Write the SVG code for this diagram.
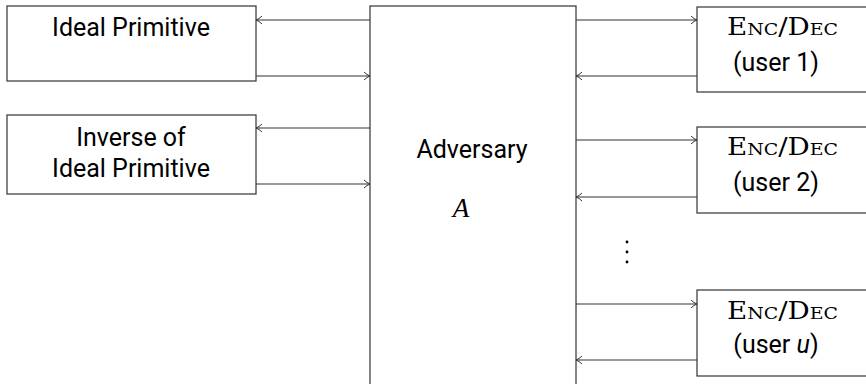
<svg xmlns="http://www.w3.org/2000/svg" width="866" height="384" viewBox="0 0 866 384">
<style>
.box{fill:#fff;stroke:#333;stroke-width:1.2}
.t{font-family:Roboto,"Liberation Sans",sans-serif;font-size:25px;fill:#000;text-anchor:middle}
.sc{font-family:"DejaVu Serif","Liberation Serif",serif;font-size:23.5px;fill:#000}
.s{font-size:16px}
.c{stroke:#333;stroke-width:1.2;fill:none;marker-end:url(#ah)}
</style>
<defs>
<marker id="ah" viewBox="0 0 10 10" refX="9" refY="5" markerWidth="10" markerHeight="10" markerUnits="userSpaceOnUse" orient="auto">
<path d="M3,1 Q6,4 9,5 Q6,6 3,9" fill="none" stroke="#333" stroke-width="1"/>
</marker>
</defs>
<rect width="866" height="384" fill="#fff"/>
<g id="ideal">
<rect class="box" x="7" y="6" width="249" height="75"/>
<text class="t" x="131" y="36">Ideal Primitive</text>
</g>
<g id="inverse">
<rect class="box" x="7" y="115" width="249" height="79"/>
<text class="t" x="131" y="146">Inverse of</text>
<text class="t" x="131" y="177">Ideal Primitive</text>
</g>
<g id="adversary">
<rect class="box" x="370" y="6" width="206" height="390"/>
<text class="t" x="472" y="158">Adversary</text>
<text x="461" y="217" font-family="'Liberation Serif',serif" font-style="italic" font-size="27" text-anchor="middle">A</text>
</g>
<g id="user1">
<rect class="box" x="697" y="7" width="180" height="85"/>
<text class="sc" x="727" y="35" textLength="111" lengthAdjust="spacingAndGlyphs">E<tspan class="s">NC</tspan>/D<tspan class="s">EC</tspan></text>
<text class="t" x="776" y="71">(user 1)</text>
</g>
<g id="user2">
<rect class="box" x="697" y="127" width="180" height="86"/>
<text class="sc" x="727" y="155" textLength="111" lengthAdjust="spacingAndGlyphs">E<tspan class="s">NC</tspan>/D<tspan class="s">EC</tspan></text>
<text class="t" x="776" y="191">(user 2)</text>
</g>
<g id="useru">
<rect class="box" x="697" y="290" width="180" height="86"/>
<text class="sc" x="727" y="319" textLength="111" lengthAdjust="spacingAndGlyphs">E<tspan class="s">NC</tspan>/D<tspan class="s">EC</tspan></text>
<text class="t" x="776" y="353">(user <tspan font-style="italic">u</tspan>)</text>
</g>
<g id="dots" fill="#000">
<circle cx="627" cy="242" r="1.4"/>
<circle cx="627" cy="252" r="1.4"/>
<circle cx="627" cy="262" r="1.4"/>
</g>
<g id="connectors">
<line class="c" x1="370" y1="20" x2="256" y2="20"/>
<line class="c" x1="256" y1="76" x2="370" y2="76"/>
<line class="c" x1="370" y1="128" x2="256" y2="128"/>
<line class="c" x1="256" y1="184" x2="370" y2="184"/>
<line class="c" x1="576" y1="20" x2="697" y2="20"/>
<line class="c" x1="697" y1="76" x2="576" y2="76"/>
<line class="c" x1="576" y1="140" x2="697" y2="140"/>
<line class="c" x1="697" y1="197" x2="576" y2="197"/>
<line class="c" x1="576" y1="304" x2="697" y2="304"/>
<line class="c" x1="697" y1="360" x2="576" y2="360"/>
</g>
</svg>
